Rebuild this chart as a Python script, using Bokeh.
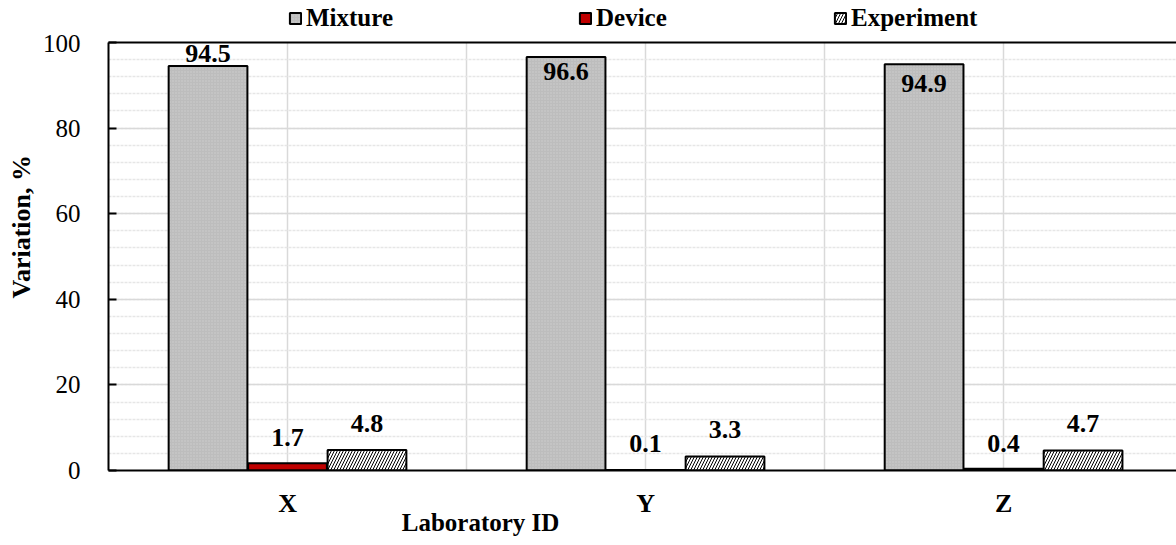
from bokeh.plotting import figure
from bokeh.layouts import column
from bokeh.models import (ColumnDataSource, Range1d, FixedTicker, LinearAxis,
                          Legend, LegendItem, Title, Label)
from bokeh.core.properties import value
from bokeh.embed import file_html
from bokeh.resources import INLINE

# Laboratory data
labs = ["X", "Y", "Z"]
mixture = [94.5, 96.6, 94.9]
device = [1.7, 0.1, 0.4]
experiment = [4.8, 3.3, 4.7]
series_names = ["Mixture", "Device", "Experiment"]

# Style settings
FONT = "Liberation Serif"
LEFT = 108        # width reserved for the value axis
PAGE_W = 1176
MAIN_H = 452
bar_w = 0.22
group_offsets = [-0.222, 0.0, 0.222]
label_lift = {  # pixels between bar top and label centre (negative = inside the bar)
    "Mixture": [13, -14, -19],
    "Device": [26, 27, 25],
    "Experiment": [26, 27, 27],
}
bar_styles = {
    "Mixture": dict(fill_color="#bdbdbd", hatch_pattern="dot", hatch_color="#cfcfcf",
                    hatch_scale=3, hatch_weight=1),
    "Device": dict(fill_color="#c00000"),
    "Experiment": dict(fill_color="white", hatch_pattern="/", hatch_color="black",
                       hatch_scale=6, hatch_weight=1),
}
legend_x = {"Mixture": 288, "Device": 578, "Experiment": 833}  # page pixels

centers = [i + 0.5 for i in range(len(labs))]
x_range = Range1d(0, 2.983)

sources = {}
for name, vals, off in zip(series_names, [mixture, device, experiment], group_offsets):
    sources[name] = ColumnDataSource(dict(
        x=[c + off for c in centers], top=vals,
        txt=[f"{v:.1f}" for v in vals],
        yoff=[-d for d in label_lift[name]]))

# ---- main chart ----
p = figure(width=PAGE_W, height=MAIN_H, output_backend="svg", toolbar_location=None,
           x_range=x_range, y_range=Range1d(0, 100),
           min_border_left=LEFT, min_border_right=0, min_border_top=8,
           min_border_bottom=16)
p.outline_line_color = None
p.background_fill_color = "white"
p.border_fill_color = "white"

# category axis: line only, its labels sit in the strip below
p.xaxis.ticker = FixedTicker(ticks=[])
p.xaxis.major_tick_line_color = None
p.xaxis.minor_tick_line_color = None
p.xaxis.major_tick_out = 0
p.xaxis.major_label_standoff = 0
p.xaxis.axis_line_color = "black"
p.xaxis.axis_line_width = 2

p.yaxis.ticker = FixedTicker(ticks=[0, 20, 40, 60, 80, 100],
                             minor_ticks=list(range(0, 101, 4)))
p.yaxis.major_tick_in = 8
p.yaxis.major_tick_out = 0
p.yaxis.major_tick_line_color = "black"
p.yaxis.major_tick_line_width = 2
p.yaxis.minor_tick_line_color = None
p.yaxis.axis_line_color = "black"
p.yaxis.axis_line_width = 2
p.yaxis.major_label_text_font = FONT
p.yaxis.major_label_text_font_size = "25px"
p.yaxis.major_label_text_color = "black"
p.yaxis.major_label_standoff = 24

# plain line along the top of the plot area
top_axis = LinearAxis(ticker=FixedTicker(ticks=[]), axis_line_color="black",
                      axis_line_width=2, major_tick_line_color=None,
                      minor_tick_line_color=None, major_tick_out=0,
                      major_label_standoff=0)
p.add_layout(top_axis, "above")

p.xgrid.ticker = FixedTicker(ticks=[0.5, 1.0, 1.5, 2.0, 2.5])
p.xgrid.grid_line_color = "#d9d9d9"
p.xgrid.grid_line_width = 1.5
p.ygrid.grid_line_color = "#d9d9d9"
p.ygrid.grid_line_width = 1.5
p.ygrid.minor_grid_line_color = "#e6e6e6"
p.ygrid.minor_grid_line_width = 1.5
p.ygrid.minor_grid_line_dash = "3 1"

for name in series_names:
    src = sources[name]
    p.vbar(x="x", top="top", bottom=0, width=bar_w, source=src,
           line_color="black", line_width=2, **bar_styles[name])
    p.text(x="x", y="top", text="txt", source=src, y_offset="yoff",
           text_font=value(FONT), text_font_style="bold", text_font_size="26px",
           text_align="center", text_baseline="middle", text_color="black")

# vertical axis title, placed a little above the middle
p.add_layout(Title(text="Variation, %", align="left", offset=172, standoff=8,
                   text_font=FONT, text_font_style="bold", text_font_size="26px",
                   text_color="black"), "left")

# ---- legend strip ----
# Hidden copies of the bar renderers supply the legend swatches.
leg = figure(width=PAGE_W, height=34, output_backend="svg", toolbar_location=None,
             x_range=x_range, y_range=Range1d(-1000, -966),
             min_border_left=LEFT, min_border_right=0, min_border_top=0,
             min_border_bottom=0, outline_line_color=None)
leg.axis.visible = False
leg.grid.visible = False
for name in series_names:
    r = leg.vbar(x="x", top="top", bottom=0, width=bar_w, source=sources[name],
                 line_color="black", line_width=2, **bar_styles[name])
    r.visible = False
    leg.add_layout(Legend(items=[LegendItem(label=name, renderers=[r])],
                          location=(legend_x[name] - LEFT, 2), orientation="horizontal",
                          glyph_width=14, glyph_height=14, label_standoff=4,
                          padding=0, margin=0, spacing=0,
                          label_text_font=FONT, label_text_font_style="bold",
                          label_text_font_size="25px", label_text_color="black",
                          inactive_fill_alpha=0,
                          background_fill_alpha=0, border_line_color=None), "center")

# ---- category labels and axis title strip (y in pixels) ----
FOOT_H = 545 - 34 - MAIN_H
foot = figure(width=PAGE_W, height=FOOT_H, output_backend="svg", toolbar_location=None,
              x_range=x_range, y_range=Range1d(0, FOOT_H),
              min_border_left=LEFT, min_border_right=0, min_border_top=0,
              min_border_bottom=0, outline_line_color=None)
foot.axis.visible = False
foot.grid.visible = False
foot.text(x=centers, y=[FOOT_H - 17] * len(labs), text=labs,
          text_font=value(FONT), text_font_style="bold", text_font_size="26px",
          text_align="center", text_baseline="middle", text_color="black")
foot.add_layout(Label(x=(480 - LEFT) / 358.0, y=FOOT_H - 36, text="Laboratory ID",
                      text_font=FONT, text_font_style="bold", text_font_size="25px",
                      text_align="center", text_baseline="middle", text_color="black"))

open("out.html", "w").write(file_html(column(leg, p, foot, spacing=0), INLINE))
